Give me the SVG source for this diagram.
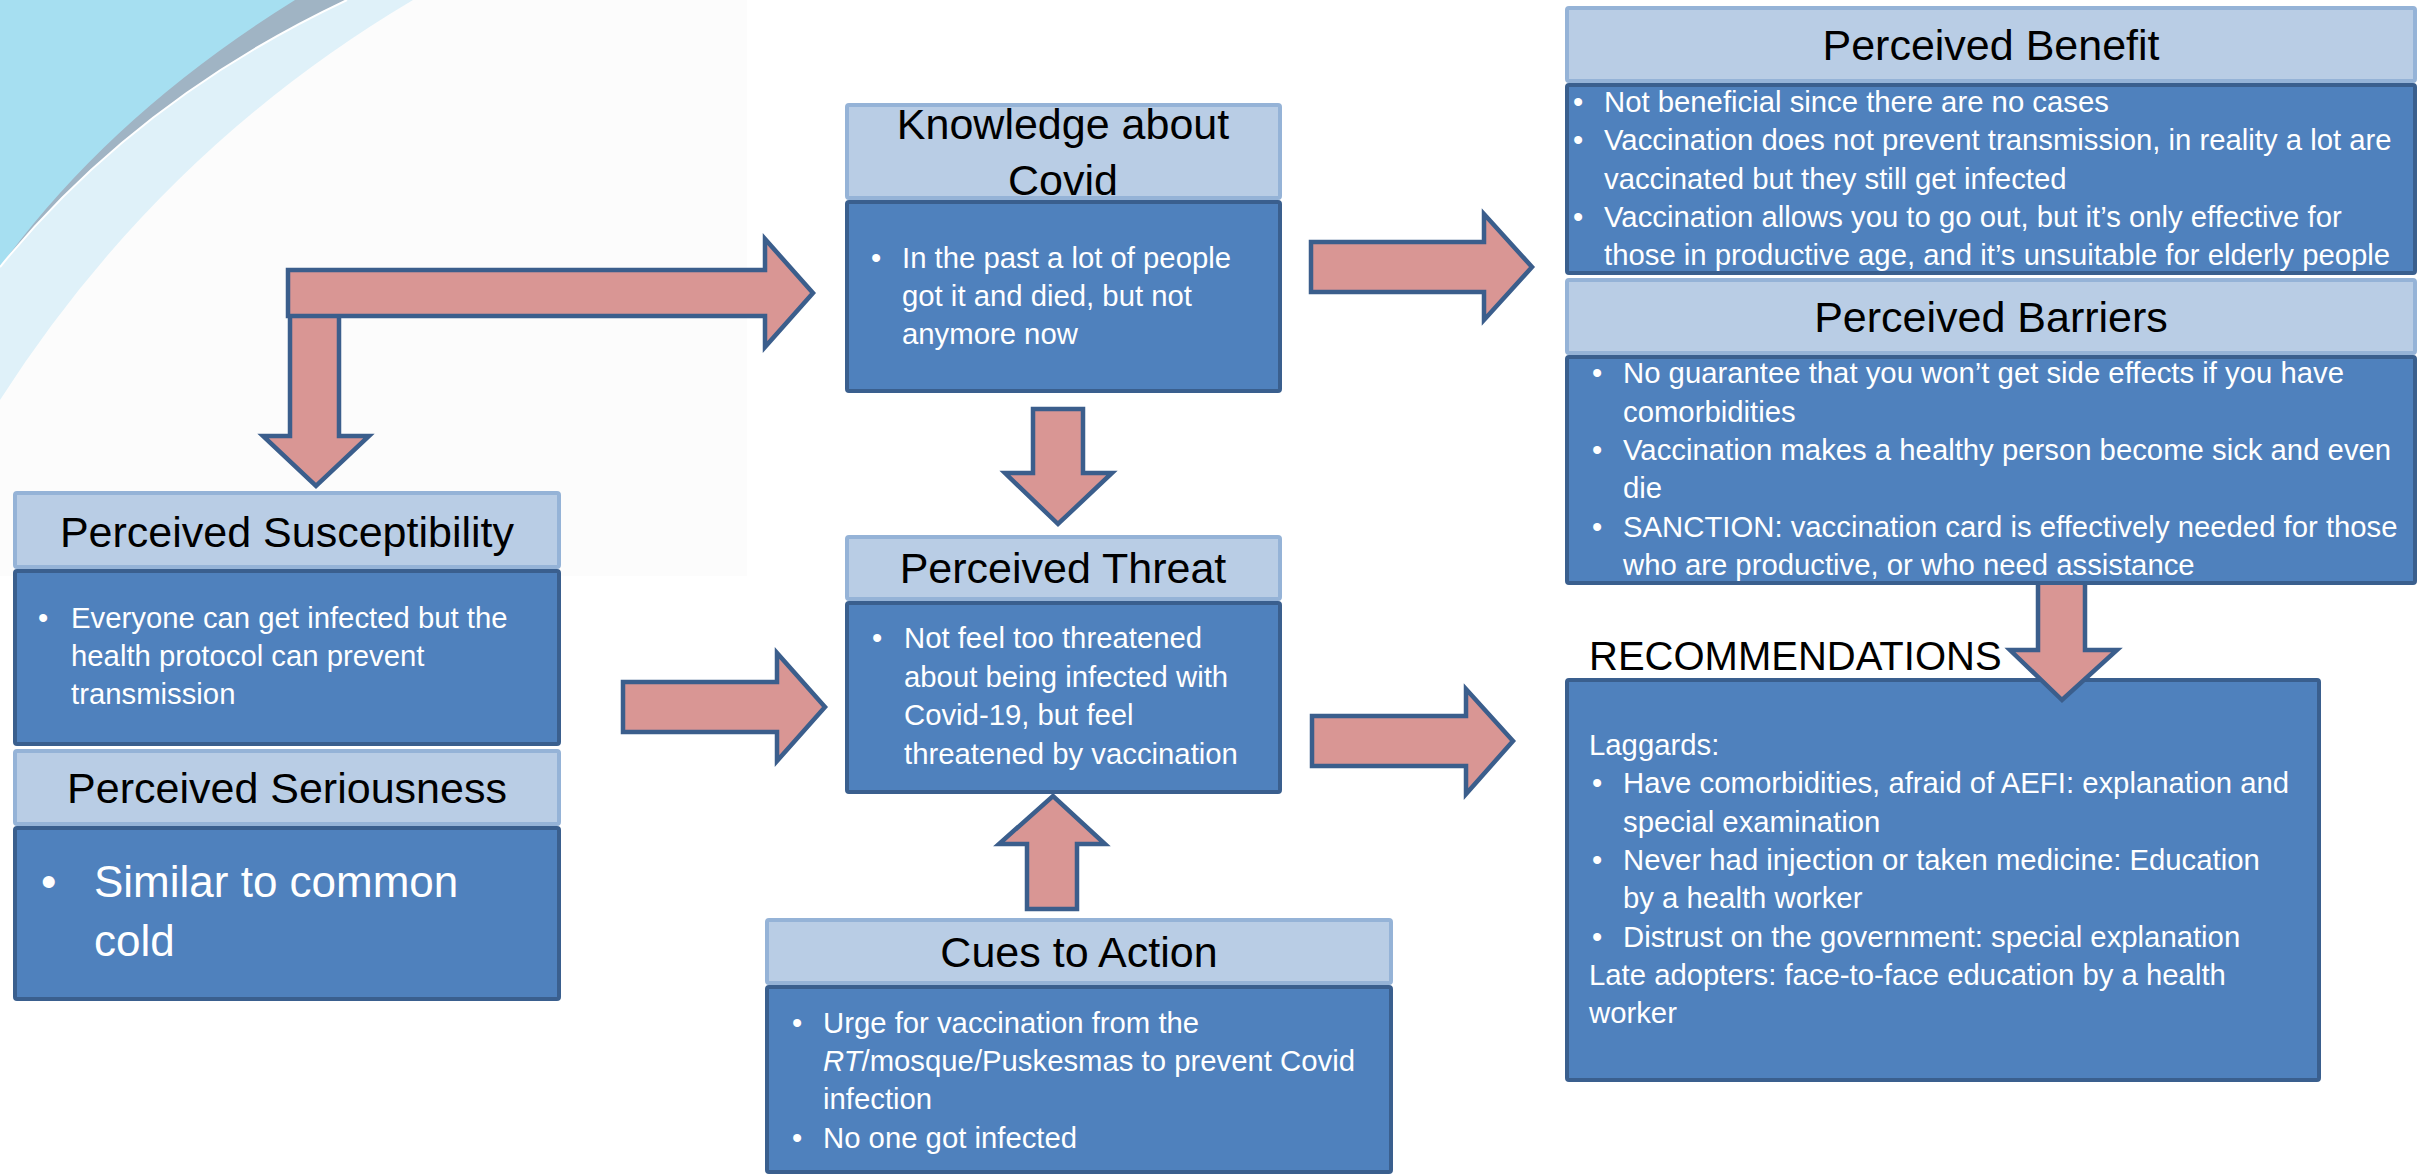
<svg xmlns="http://www.w3.org/2000/svg" width="2422" height="1176" viewBox="0 0 2422 1176">
<style>
.hd{fill:#b9cde5;stroke:#95b3d7;stroke-width:4}
.bd{fill:#4f81bd;stroke:#3a5f8e;stroke-width:4}
.ar{fill:#d99694;stroke:#3b5e8c;stroke-width:4.5;stroke-linejoin:miter;stroke-miterlimit:10}
text{font-family:'Liberation Sans',Arial,sans-serif}
.ht{font-size:43px;fill:#000;text-anchor:middle}
.bt{font-size:29.3px;fill:#fff}
.bl{font-size:29.3px;fill:#fff}
</style>
<rect width="2422" height="1176" fill="#ffffff"/>
<g id="background">
<rect x="0" y="0" width="747" height="576" fill="#fcfcfc"/>
<path d="M0,0 L413,0 Q160,150 0,400 Z" fill="#dff1f9"/>
<path d="M0,0 L347,0 Q135,100 0,267 Z" fill="#a0b4c4"/>
<path d="M0,0 L295,0 Q110,115 0,267 Z" fill="#a6dff1"/>
<path d="M347,0 Q135,100 0,267" fill="none" stroke="#ffffff" stroke-width="2"/>
</g>

<g id="node-recommendations">
<text x="1589" y="670" font-size="40" fill="#000">RECOMMENDATIONS</text>
<rect class="bd" x="1567" y="680" width="752" height="400" rx="2"/>
<text class="bt" x="1589" y="755">Laggards:</text>
<text class="bl" x="1592" y="793">•</text>
<text class="bt" x="1623" y="793">Have comorbidities, afraid of AEFI: explanation and</text>
<text class="bt" x="1623" y="832">special examination</text>
<text class="bl" x="1592" y="870">•</text>
<text class="bt" x="1623" y="870">Never had injection or taken medicine: Education</text>
<text class="bt" x="1623" y="908">by a health worker</text>
<text class="bl" x="1592" y="947">•</text>
<text class="bt" x="1623" y="947">Distrust on the government: special explanation</text>
<text class="bt" x="1589" y="985">Late adopters: face-to-face education by a health</text>
<text class="bt" x="1589" y="1023">worker</text>
</g>

<g id="connectors">
<path class="ar" d="M290,300 V436 H263 L316,486 L369,436 H339 V300 Z"/>
<path class="ar" d="M288,270 H765 V239 L813,293 L765,347 V316 H288 Z"/>
<path class="ar" d="M1311,242 H1484 V214 L1532,267 L1484,320 V292 H1311 Z"/>
<path class="ar" d="M1033,409 H1083 V473 H1112 L1058,524 L1005,473 H1033 Z"/>
<path class="ar" d="M623,682 H777 V653 L825,707 L777,761 V732 H623 Z"/>
<path class="ar" d="M1027,909 V844 H999 L1053,796 L1105,844 H1077 V909 Z"/>
<path class="ar" d="M1312,716 H1466 V689 L1513,741 L1466,794 V766 H1312 Z"/>
<path class="ar" d="M2038,570 V650 H2010 L2062,700 L2117,650 H2085 V570 Z"/>
</g>

<g id="node-susceptibility">
<rect class="hd" x="15" y="493" width="544" height="74" rx="2"/>
<rect class="bd" x="15" y="571" width="544" height="173" rx="2"/>
<text class="ht" x="287" y="547">Perceived Susceptibility</text>
<text class="bl" x="38" y="628">•</text>
<text class="bt" x="71" y="628">Everyone can get infected but the</text>
<text class="bt" x="71" y="666">health protocol can prevent</text>
<text class="bt" x="71" y="704">transmission</text>
</g>

<g id="node-seriousness">
<rect class="hd" x="15" y="751" width="544" height="73" rx="2"/>
<rect class="bd" x="15" y="828" width="544" height="171" rx="2"/>
<text class="ht" x="287" y="803" font-size="42">Perceived Seriousness</text>
<text x="41" y="897" font-size="44" fill="#fff">•</text>
<text x="94" y="897" font-size="44" fill="#fff">Similar to common</text>
<text x="94" y="956" font-size="44" fill="#fff">cold</text>
</g>

<g id="node-knowledge">
<rect class="hd" x="847" y="105" width="433" height="93" rx="2"/>
<rect class="bd" x="847" y="202" width="433" height="189" rx="2"/>
<text class="ht" x="1063" y="139" font-size="44">Knowledge about</text>
<text class="ht" x="1063" y="195" font-size="44">Covid</text>
<text class="bl" x="871" y="268">•</text>
<text class="bt" x="902" y="268">In the past a lot of people</text>
<text class="bt" x="902" y="306">got it and died, but not</text>
<text class="bt" x="902" y="344">anymore now</text>
</g>

<g id="node-threat">
<rect class="hd" x="847" y="537" width="433" height="62" rx="2"/>
<rect class="bd" x="847" y="603" width="433" height="189" rx="2"/>
<text class="ht" x="1063" y="583">Perceived Threat</text>
<text class="bl" x="872" y="648">•</text>
<text class="bt" x="904" y="648">Not feel too threatened</text>
<text class="bt" x="904" y="687">about being infected with</text>
<text class="bt" x="904" y="725">Covid-19, but feel</text>
<text class="bt" x="904" y="764">threatened by vaccination</text>
</g>

<g id="node-cues">
<rect class="hd" x="767" y="920" width="624" height="63" rx="2"/>
<rect class="bd" x="767" y="987" width="624" height="185" rx="2"/>
<text class="ht" x="1079" y="967">Cues to Action</text>
<text class="bl" x="792" y="1033">•</text>
<text class="bt" x="823" y="1033">Urge for vaccination from the</text>
<text class="bt" x="823" y="1071"><tspan font-style="italic">RT</tspan>/mosque/Puskesmas to prevent Covid</text>
<text class="bt" x="823" y="1109">infection</text>
<text class="bl" x="792" y="1148">•</text>
<text class="bt" x="823" y="1148">No one got infected</text>
</g>

<g id="node-benefit">
<rect class="hd" x="1567" y="8" width="848" height="73" rx="2"/>
<rect class="bd" x="1567" y="85" width="848" height="188" rx="2"/>
<text class="ht" x="1991" y="60">Perceived Benefit</text>
<text class="bl" x="1573" y="112">•</text>
<text class="bt" x="1604" y="112">Not beneficial since there are no cases</text>
<text class="bl" x="1573" y="150">•</text>
<text class="bt" x="1604" y="150">Vaccination does not prevent transmission, in reality a lot are</text>
<text class="bt" x="1604" y="189">vaccinated but they still get infected</text>
<text class="bl" x="1573" y="227">•</text>
<text class="bt" x="1604" y="227">Vaccination allows you to go out, but it’s only effective for</text>
<text class="bt" x="1604" y="265">those in productive age, and it’s unsuitable for elderly people</text>
</g>

<g id="node-barriers">
<rect class="hd" x="1567" y="280" width="848" height="73" rx="2"/>
<rect class="bd" x="1567" y="357" width="848" height="226" rx="2"/>
<text class="ht" x="1991" y="332">Perceived Barriers</text>
<text class="bl" x="1592" y="383">•</text>
<text class="bt" x="1623" y="383">No guarantee that you won’t get side effects if you have</text>
<text class="bt" x="1623" y="422">comorbidities</text>
<text class="bl" x="1592" y="460">•</text>
<text class="bt" x="1623" y="460">Vaccination makes a healthy person become sick and even</text>
<text class="bt" x="1623" y="498">die</text>
<text class="bl" x="1592" y="537">•</text>
<text class="bt" x="1623" y="537">SANCTION: vaccination card is effectively needed for those</text>
<text class="bt" x="1623" y="575">who are productive, or who need assistance</text>
</g>
</svg>
